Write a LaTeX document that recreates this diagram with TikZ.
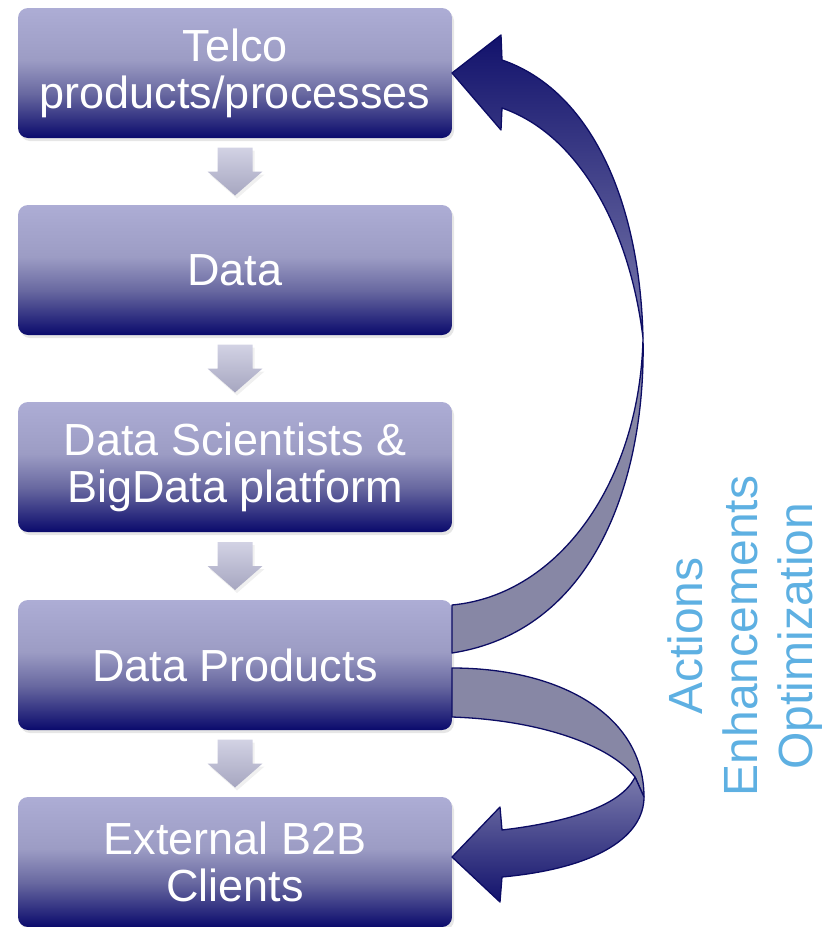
\documentclass[tikz,border=0pt]{standalone}
\usepackage{fontspec}
\setmainfont{Liberation Sans}
\usetikzlibrary{shadows,calc}

\definecolor{boxtop}{RGB}{173,173,213}
\definecolor{boxmid}{RGB}{156,156,196}
\definecolor{boxlow}{RGB}{104,104,160}
\definecolor{boxbot}{RGB}{10,10,108}
\definecolor{ribbonback}{RGB}{135,135,165}
\definecolor{ribbonline}{RGB}{12,12,100}
\definecolor{ribbonlight}{RGB}{122,122,172}
\definecolor{ribbondark}{RGB}{18,18,108}
\definecolor{steptop}{RGB}{210,210,228}
\definecolor{stepbot}{RGB}{166,166,192}
\definecolor{labelblue}{RGB}{94,176,226}

\pgfdeclareverticalshading{boxshade}{100bp}{color(0bp)=(boxbot); color(25bp)=(boxbot); color(42bp)=(boxlow); color(55bp)=(boxmid); color(75bp)=(boxtop); color(100bp)=(boxtop)}

\tikzset{
  stage/.style={shade, shading=boxshade, rounded corners=10pt,
    minimum width=434pt, minimum height=130pt, inner sep=0pt, outer sep=0pt,
    text=white, align=center, font=\fontsize{45}{47}\selectfont,
    drop shadow={opacity=0.2, shadow xshift=2pt, shadow yshift=-3pt}},
  stepdown/.style={top color=steptop, bottom color=stepbot,
    drop shadow={opacity=0.12, shadow xshift=2pt, shadow yshift=-3pt}},
  ribbon/.style={draw=ribbonline, line width=1.3pt, line join=round},
}

\begin{document}
\begin{tikzpicture}[x=1pt, y=-1pt]
  \useasboundingbox (0,0) rectangle (838,927);

  \node[stage] (telco) at (235,73) {Telco\\products/processes};
  \node[stage] (data) at (235,270) {Data};
  \node[stage] (science) at (235,467) {Data Scientists \&\\BigData platform};
  \node[stage] (prod) at (235,665) {Data Products};
  \node[stage] (ext) at (235,862) {External B2B\\Clients};

  % block arrows between the stages
  \foreach \a/\b in {telco/data, data/science, science/prod, prod/ext}{
    \coordinate (to-\b) at ($(\a.south)!0.5!(\b.north)$);
    \shade[stepdown] (to-\b) ++(-17.5,-24) -- ++(35,0) -- ++(0,24) -- ++(10,0)
      -- ++(-27.5,24) -- ++(-27.5,-24) -- ++(10,0) -- cycle;
  }

  % feedback ribbon back up to telco
  \coordinate (twistup) at (643,338);
  \path[ribbon, fill=ribbonback] ([yshift=60pt]prod.east)
    .. controls (560,595) and (640,480) .. (twistup)
    .. controls (646,470) and (600,630) .. ([yshift=12pt]prod.east) -- cycle;
  \shadedraw[ribbon, top color=ribbondark, bottom color=ribbonlight] (twistup)
    .. controls (630,230) and (580,135) .. (502,108)
    -- (501,130) -- (telco.east) -- (501,35) -- (502,60)
    .. controls (590,90) and (640,200) .. (twistup) -- cycle;

  % ribbon down to the clients
  \coordinate (twistdown) at (635,777);
  \coordinate (turn) at (644,797);
  \path[ribbon, fill=ribbonback] ([yshift=-3pt]prod.east)
    .. controls (560,668) and (644,715) .. (turn) -- (twistdown)
    .. controls (610,745) and (540,720) .. ([yshift=-52pt]prod.east) -- cycle;
  \shadedraw[ribbon, top color=ribbonlight, bottom color=ribbondark] (twistdown) -- (turn)
    .. controls (644,835) and (600,868) .. (502,877)
    -- (500,902) -- ([yshift=5pt]ext.east) -- (500,807) -- (502,830)
    .. controls (570,822) and (622,805) .. (twistdown) -- cycle;

  \node[rotate=90, align=center, text=labelblue, font=\fontsize{48}{55}\selectfont] (effects) at (745,636) {Actions\\Enhancements\\Optimization};
\end{tikzpicture}
\end{document}
